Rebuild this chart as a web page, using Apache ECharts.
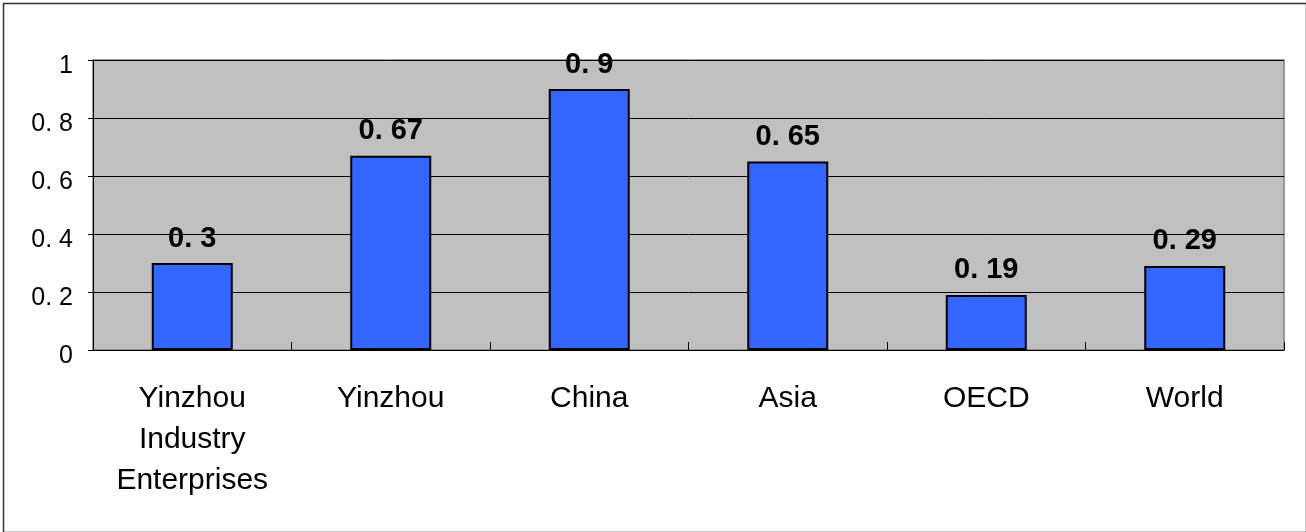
<!DOCTYPE html>
<html><head><meta charset="utf-8">
<script src="https://cdn.jsdelivr.net/npm/echarts@6/dist/echarts.min.js"></script>
<style>html,body{margin:0;padding:0;background:#fff}#c{width:1306px;height:532px}</style>
</head><body><div id="c"></div>
<script>
const categories = ['Yinzhou\nIndustry\nEnterprises', 'Yinzhou', 'China', 'Asia', 'OECD', 'World'];
const values = [0.3, 0.67, 0.9, 0.65, 0.19, 0.29];
const yTicks = [0, 0.2, 0.4, 0.6, 0.8, 1];

const chart = echarts.init(document.getElementById('c'));
chart.setOption({
  animation: false,
  backgroundColor: '#fff',
  graphic: [{
    type: 'rect', left: 1, top: 1, z: -10,
    shape: { width: 1303, height: 529 },
    style: { fill: 'none', stroke: '#333', lineWidth: 1.5 }
  }],
  grid: { left: 93, right: 22, top: 60, bottom: 182, show: true, backgroundColor: '#c0c0c0', borderColor: '#808080', borderWidth: 1.5 },
  xAxis: {
    type: 'category', data: categories,
    axisLine: { lineStyle: { color: '#000', width: 1 } },
    axisTick: { show: true, inside: true, length: 8, lineStyle: { color: '#000' } },
    axisLabel: { color: '#000', fontFamily: 'Liberation Sans, Arial, sans-serif', fontSize: 30, lineHeight: 41, margin: 28 }
  },
  yAxis: {
    type: 'value', min: 0, max: 1, interval: 0.2,
    axisLine: { show: true, lineStyle: { color: '#000' } },
    axisTick: { show: true, length: 5, lineStyle: { color: '#000' } },
    splitLine: { lineStyle: { color: '#000', width: 1 } },
    axisLabel: { color: '#000', margin: 20,
      rich: { a: { fontFamily: 'Liberation Sans, Arial, sans-serif', fontSize: 25, color: '#000', padding: [13, 0, 0, 0] } },
      formatter: v => { const t = yTicks.find(x => Math.abs(x - v) < 1e-9); return t === undefined ? '' : '{a|' + String(t).replace('.', '. ') + '}'; } }
  },
  series: [{
    type: 'bar', data: values, barWidth: 81,
    itemStyle: { color: '#3366ff', borderColor: '#000', borderWidth: 2 },
    label: { show: true, position: 'top', distance: 10, color: '#000', fontWeight: 'bold', fontSize: 29,
      fontFamily: 'Liberation Sans, Arial, sans-serif', formatter: p => String(p.value).replace('.', '. ') }
  }]
});
</script></body></html>
